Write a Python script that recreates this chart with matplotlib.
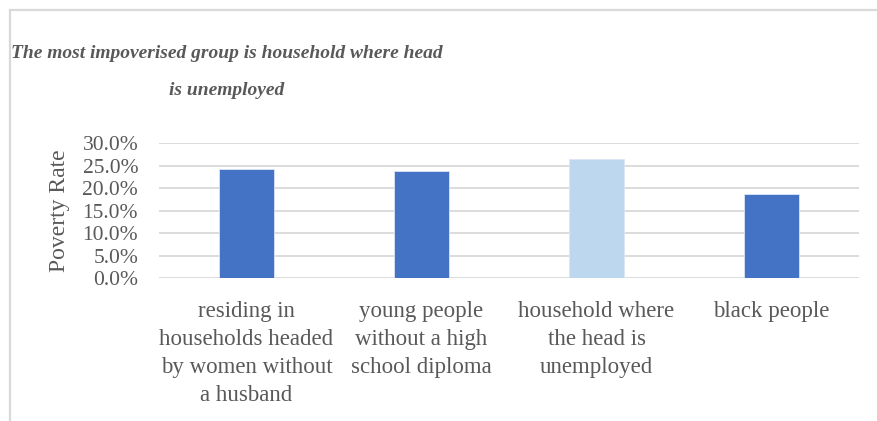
import matplotlib
matplotlib.use("Agg")
import matplotlib.pyplot as plt
from matplotlib.lines import Line2D
from matplotlib.ticker import PercentFormatter

categories = [
    "residing in\nhouseholds headed\nby women without\na husband",
    "young people\nwithout a high\nschool diploma",
    "household where\nthe head is\nunemployed",
    "black people",
]
poverty_rate = [24.3, 23.8, 26.5, 18.8]
bar_colors = ["#4472C4", "#4472C4", "#BDD7EE", "#4472C4"]
title = "The most impoverised group is household where head\nis unemployed"
y_label = "Poverty Rate"

plt.rcParams['font.family'] = ['Liberation Serif', 'DejaVu Serif']
gray = "#595959"

fig = plt.figure(figsize=(8.77, 4.21), dpi=100)
ax = fig.add_axes([159/877, 1-278.3/421, 700/877, (278.3-143.3)/421])

x = list(range(len(categories)))
ax.bar(x, poverty_rate, width=0.31, color=bar_colors, edgecolor="#dbe5f5", linewidth=0.6, zorder=3)
ax.set_xlim(-0.5, len(categories)-0.5)
ax.set_ylim(0, 30)
ax.set_yticks([0, 5, 10, 15, 20, 25, 30])
ax.yaxis.set_major_formatter(PercentFormatter(decimals=1))
ax.set_xticks(x)
ax.set_xticklabels(categories, fontsize=16.5, color=gray, linespacing=1.45)
ax.tick_params(axis='both', length=0, colors=gray)
ax.tick_params(axis='y', labelsize=15.5, pad=15)
ax.tick_params(axis='x', pad=16)
ax.grid(axis='y', color="#d9d9d9", linewidth=1.3, zorder=0)
for s in ax.spines.values():
    s.set_visible(False)
ax.set_ylabel(y_label, fontsize=17, color=gray)
ax.yaxis.set_label_coords((70-159)/700, 0.5)

fig.text(227/877, 1-72/421, title, ha='center', va='center', fontsize=14,
         fontweight='bold', fontstyle='italic', color=gray, multialignment='center',
         linespacing=2.55)

bc = "#d9d9d9"
fig.add_artist(Line2D([10/877, 1], [1-10/421, 1-10/421], color=bc, linewidth=1.6, transform=fig.transFigure))
fig.add_artist(Line2D([10/877, 10/877], [0, 1-10/421], color=bc, linewidth=1.6, transform=fig.transFigure))

fig.savefig("out.png", dpi=100, facecolor="white")
